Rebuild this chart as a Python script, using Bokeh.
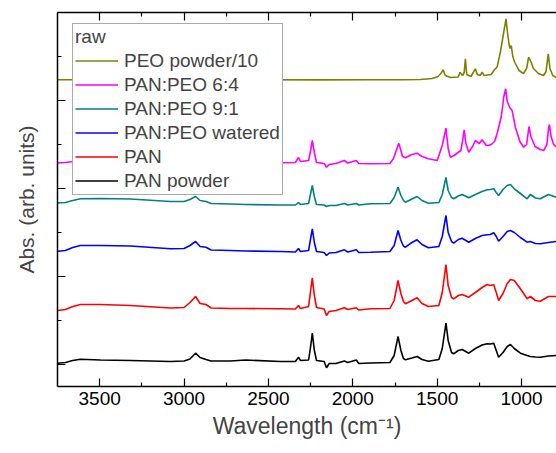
from bokeh.plotting import figure
from bokeh.models import Range1d, FixedTicker, LinearAxis, Legend, LegendItem, CustomJSTickFormatter
from bokeh.embed import file_html
from bokeh.resources import INLINE

# ---- data (wavenumber in cm^-1, stacked absorbance in arb. units) ----
wn_pan = [3750, 3703, 3660, 3614, 3495, 3318, 3081, 3000, 2965, 2932, 2905, 2870, 2840, 2725,
          2636, 2429, 2340, 2322, 2310, 2262, 2250, 2240, 2228, 2215, 2170, 2156, 2140, 2100,
          2050, 2030, 1979, 1965, 1896, 1780, 1755, 1732, 1715, 1700, 1688, 1650, 1619, 1590,
          1552, 1490, 1470, 1448, 1435, 1415, 1402, 1375, 1352, 1313, 1274, 1234, 1204, 1185,
          1165, 1150, 1136, 1110, 1085, 1066, 1043, 1007, 967, 948, 918, 889, 841, 794]

pan_powder = [23.3, 24, 26, 27.3, 26.5, 26, 25, 25.5, 27.5, 33.3, 29, 27, 25.5, 25.5,
              26.5, 25, 25, 29.3, 26, 26.5, 40, 53.3, 36, 26, 25, 18.7, 23, 23,
              25.5, 24, 26.5, 23, 23.5, 24, 31, 50, 36, 28, 26.7, 28.5, 30, 27,
              25.3, 27, 38, 63.3, 46, 34, 32.7, 36, 37, 33.3, 38, 41.5, 42.7, 42.5,
              43.3, 36, 29.3, 34, 40, 42, 38, 33.3, 31, 30, 29.5, 29.3, 30.5, 31]

pan = [76, 77, 80, 82, 82, 81, 78.5, 79, 84, 90, 83, 82, 78.5, 78,
       78, 77.7, 77.5, 81, 78, 80, 96, 108.7, 91, 79, 77.5, 71, 75, 76,
       78.7, 77, 78.7, 76.5, 77.7, 78, 86, 106, 93, 85, 82.7, 86, 88.7, 83,
       80, 81, 94, 122, 101, 89, 87.7, 91, 92, 89.3, 94, 99, 102, 101,
       101.7, 94, 86, 93, 103, 107, 106, 97.7, 87.7, 90, 86, 85.3, 90, 90]

pan_peo_watered = [135.3, 136, 139, 141, 141, 140.5, 137.7, 138, 141, 145, 140, 139.3, 136.5, 136,
                   135.5, 135, 134.5, 138, 135, 136, 148, 157.7, 144, 135, 134, 131, 133.5, 134,
                   136.7, 134.5, 136.7, 134, 134.3, 135, 141, 156, 146, 140.5, 139.3, 144, 146.7, 142,
                   138.7, 140, 150, 171, 154, 145, 143.3, 147, 148.3, 144.3, 148, 151, 151.7, 152,
                   153.7, 150, 145.3, 150, 155, 156, 154, 149, 144.3, 145, 143, 142.7, 144, 145]

pan_peo_91 = [183.5, 184, 186, 187.7, 188, 187.5, 185, 185, 187, 190, 186, 185, 183, 182.5,
              182, 181.5, 181.5, 184, 182, 183, 193, 201, 190, 182, 181.5, 180, 181, 181,
              183, 181.5, 183, 181.5, 182.7, 183, 189, 199.3, 191, 186, 184.3, 187.5, 190, 186,
              183.3, 184, 192, 209, 196, 189, 187.7, 190.5, 192, 188.7, 192, 195, 196.7, 197,
              197.7, 194, 191, 197, 201, 202, 197.7, 193, 187.7, 192, 188.5, 187.7, 192, 189.3]

wn_64 = [3750, 3703, 3614, 3000, 2932, 2870, 2800, 2429, 2340, 2322, 2310, 2262, 2250, 2240,
         2228, 2215, 2170, 2156, 2140, 2100, 2050, 2030, 1979, 1965, 1896, 1780, 1759, 1728,
         1715, 1706, 1688, 1650, 1619, 1590, 1552, 1500, 1470, 1448, 1435, 1422, 1400, 1360,
         1352, 1340, 1330, 1313, 1290, 1274, 1250, 1234, 1210, 1197, 1180, 1160, 1145, 1120,
         1105, 1094, 1085, 1070, 1056, 1037, 1010, 988, 970, 956, 945, 920, 890, 869,
         850, 840, 835, 825, 810, 794]
pan_peo_64 = [223.5, 224, 226, 225, 231, 226, 224, 223.7, 224, 229, 225, 226, 236, 246,
              234, 224, 223, 219.3, 222, 223, 226, 223.5, 226, 223, 222.7, 223, 228, 243.3,
              236, 230, 228.7, 232, 233.3, 230, 227.7, 226, 241, 258.3, 238, 229.3, 231, 236,
              243, 256.7, 243, 234.3, 240, 246, 243, 246.7, 241, 241, 242, 245, 253, 270,
              290, 297.7, 285, 279, 276, 259.3, 245, 239.3, 242, 260, 250, 240, 237, 236,
              242, 258, 262, 250, 242, 239.3]

wn_peo = [3750, 3400, 3000, 2600, 2200, 1900, 1700, 1600, 1530, 1495, 1478, 1465, 1452, 1420,
          1375, 1365, 1350, 1340, 1333, 1325, 1300, 1283, 1274, 1262, 1245, 1234, 1222, 1180,
          1160, 1145, 1125, 1105, 1092, 1085, 1075, 1068, 1061, 1052, 1040, 1015, 989, 970,
          958, 945, 930, 900, 870, 855, 842, 832, 815, 794]
peo_powder_10 = [306.7, 306.8, 306.5, 306.8, 306.6, 306.7, 306.8, 307, 308, 310, 313, 316.7, 311, 309,
                 309.5, 314.3, 311, 314, 327.7, 312, 310, 315, 317.7, 312, 311, 314.3, 311, 312,
                 317, 319.3, 335, 355, 367.7, 356, 343, 338, 341, 330, 324, 316, 313, 318,
                 329.3, 325, 318, 313, 311, 315, 332.7, 318, 311, 309]

series_names = ["PEO powder/10", "PAN:PEO 6:4", "PAN:PEO 9:1", "PAN:PEO watered", "PAN", "PAN powder"]
series_x = [wn_peo, wn_64, wn_pan, wn_pan, wn_pan, wn_pan]
series_y = [peo_powder_10, pan_peo_64, pan_peo_91, pan_peo_watered, pan, pan_powder]
series_colors = ["#808000", "#FF00FF", "#008080", "#0000FF", "#FF0000", "#000000"]

x_major = [1000, 1500, 2000, 2500, 3000, 3500]
x_minor = [1250, 1750, 2250, 2750, 3250]
y_major = [22, 110, 198, 286, 374]
y_minor = [66, 154, 242, 330]

FONT = "Liberation Sans"

p = figure(width=556, height=453, output_backend="svg", toolbar_location=None,
           x_range=Range1d(3750, 793), y_range=Range1d(0, 374),
           min_border_left=57, min_border_right=0, min_border_top=12, min_border_bottom=67)
p.outline_line_color = None
p.xgrid.visible = False
p.ygrid.visible = False
p.background_fill_color = "white"
p.border_fill_color = "white"


def style_axis(ax, ticks, minor, labels=True):
    ax.ticker = FixedTicker(ticks=ticks, minor_ticks=minor)
    ax.axis_line_width = 1.5
    ax.axis_line_color = "black"
    ax.major_tick_in = 8
    ax.major_tick_out = 0
    ax.minor_tick_in = 4
    ax.minor_tick_out = 0
    ax.major_tick_line_width = 1.2
    ax.minor_tick_line_width = 1.2
    ax.major_label_text_font = FONT
    ax.major_label_text_color = "black"
    if labels:
        ax.major_label_text_font_size = "19px"
        ax.major_label_standoff = 5
    else:
        ax.formatter = CustomJSTickFormatter(code="return '';")
        ax.major_label_text_font_size = "1px"
        ax.major_label_standoff = 0


xa = p.xaxis[0]
style_axis(xa, x_major, x_minor)
xa.axis_label = "Wavelength (cm\u207b\u00b9)"
xa.axis_label_text_font = FONT
xa.axis_label_text_font_size = "23px"
xa.axis_label_text_font_style = "normal"
xa.axis_label_standoff = 5

ya = p.yaxis[0]
style_axis(ya, y_major, y_minor, labels=False)
ya.axis_label = "Abs. (arb. units)"
ya.axis_label_text_font = FONT
ya.axis_label_text_font_size = "21px"
ya.axis_label_text_font_style = "normal"
ya.axis_label_standoff = 20

top = LinearAxis()
style_axis(top, x_major, x_minor, labels=False)
p.add_layout(top, "above")

renderers = []
for xs, ys, c in zip(series_x, series_y, series_colors):
    renderers.append(p.line(xs, ys, line_color=c, line_width=1.6))

items = [LegendItem(label=n, renderers=[r]) for n, r in zip(series_names, renderers)]
legend = Legend(items=items, location=(15, 191), title="raw")
legend.title_text_font = FONT
legend.title_text_font_size = "19px"
legend.title_text_font_style = "normal"
legend.title_standoff = 1
legend.label_text_font = FONT
legend.label_text_font_size = "19px"
legend.glyph_width = 43
legend.glyph_height = 23
legend.label_height = 23
legend.label_standoff = 6
legend.spacing = 1
legend.padding = 2
legend.border_line_color = "#555555"
legend.border_line_width = 1
legend.background_fill_alpha = 1.0
legend.background_fill_color = "white"
p.add_layout(legend)

open("out.html", "w").write(file_html(p, INLINE))
